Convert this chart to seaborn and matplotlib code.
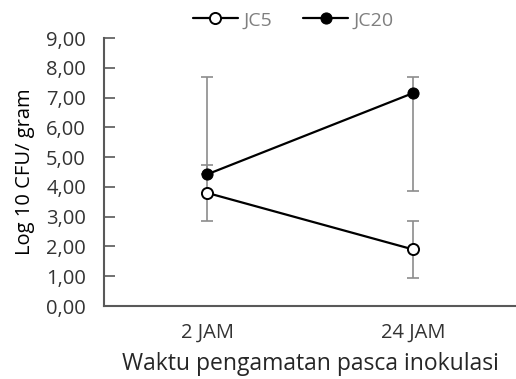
import numpy as np
import pandas as pd
import matplotlib
matplotlib.use('Agg')
import matplotlib.pyplot as plt
import seaborn as sns

# data
waktu = ['2 JAM', '24 JAM']
jc5 = [3.80, 1.90]
jc5_bawah = [0.95, 0.95]
jc5_atas = [0.95, 0.95]
jc20 = [4.42, 7.15]
jc20_bawah = [0.0, 3.28]
jc20_atas = [3.26, 0.53]
yticks = np.arange(0, 9.01, 1.0)

df = pd.DataFrame({
    'waktu': waktu * 2,
    'nilai': jc5 + jc20,
    'seri': ['JC5'] * 2 + ['JC20'] * 2,
})

sns.set_style('white')
plt.rcParams['font.family'] = ['Open Sans', 'DejaVu Sans']

fig = plt.figure(figsize=(5.16, 3.79), dpi=100)
ax = fig.add_axes([0.2016, 0.1926, 0.7984, 0.7071])

abu = '#8c8c8c'
ax.errorbar(range(len(waktu)), jc5, yerr=[jc5_bawah, jc5_atas], fmt='none',
            ecolor=abu, elinewidth=1.2, capsize=4, capthick=1.2, zorder=1)
ax.errorbar(range(len(waktu)), jc20, yerr=[jc20_bawah, jc20_atas], fmt='none',
            ecolor=abu, elinewidth=1.2, capsize=4, capthick=1.2, zorder=1)

sns.lineplot(data=df[df['seri'] == 'JC5'], x='waktu', y='nilai', ax=ax,
             color='black', linewidth=1.6, marker='o', markersize=8,
             markerfacecolor='white', markeredgecolor='black', markeredgewidth=1.4,
             label='JC5', zorder=3)
sns.lineplot(data=df[df['seri'] == 'JC20'], x='waktu', y='nilai', ax=ax,
             color='black', linewidth=1.6, marker='o', markersize=8,
             markerfacecolor='black', markeredgecolor='black',
             label='JC20', zorder=3)

ax.set_xlim(-0.5, 1.5)
ax.set_ylim(0, 9)
ax.set_yticks(yticks)
ax.set_yticklabels([f'{v:.2f}'.replace('.', ',') for v in yticks], fontsize=14.5, color='#333333')
ax.set_xticks([0.5])
ax.set_xticklabels([''])
ax.set_xticks([0, 1], minor=True)
ax.set_xticklabels(waktu, minor=True, fontsize=14.5, color='#333333')
ax.tick_params(axis='x', which='minor', length=0, pad=12)
ax.tick_params(axis='x', which='major', direction='in', length=5, width=1.2, color='#595959')
ax.tick_params(axis='y', direction='in', length=8, width=1.2, color='#595959', pad=13, left=True)

for s in ['top', 'right']:
    ax.spines[s].set_visible(False)
for s in ['left', 'bottom']:
    ax.spines[s].set_color('#595959')
    ax.spines[s].set_linewidth(1.5)

ax.set_xlabel('Waktu pengamatan pasca inokulasi', fontsize=16.5, color='#262626', labelpad=7)
ax.set_ylabel('Log 10 CFU/ gram', fontsize=14.5, color='black', labelpad=8)

leg = ax.legend(loc='upper center', bbox_to_anchor=(0.46, 1.165), ncol=2, frameon=False,
                fontsize=14, handlelength=2.3, columnspacing=1.6, handletextpad=0.3)
for t in leg.get_texts():
    t.set_color('#7f7f7f')

fig.savefig('out.png', dpi=100)
